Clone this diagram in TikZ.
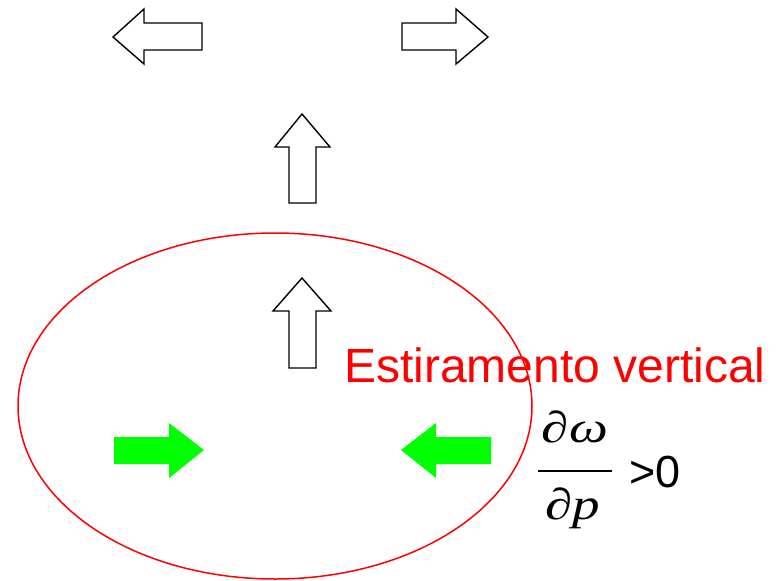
\documentclass[tikz,border=0pt]{standalone}
\usepackage{fontspec}
\setmainfont{Liberation Sans}
\newfontfamily\serifit{Liberation Serif}[ItalicFont={* Italic}]
\begin{document}
\begin{tikzpicture}[x=1pt,y=-1pt,
  outlinearrow/.style={draw=black,line width=1.4pt,fill=white,line join=miter},
  greenarrow/.style={fill=green!100,draw=none},
  ring/.style={draw=red,line width=1.5pt},
  redlabel/.style={text=red,font=\fontsize{48}{56}\selectfont,inner sep=0pt},
  blacklabel/.style={text=black,font=\fontsize{45}{54}\selectfont,inner sep=0pt},
  mathpart/.style={text=black,font=\fontsize{44}{52}\selectfont\serifit\itshape,inner sep=0pt}]
\useasboundingbox (0,0) rectangle (777,581);

% divergence aloft: two horizontal hollow arrows
\draw[outlinearrow] (113,37) -- (144,9) -- (144,23) -- (202,23) -- (202,50) -- (144,50) -- (144,64) -- cycle;
\draw[outlinearrow] (488,37) -- (456,9) -- (456,23) -- (402,23) -- (402,50) -- (456,50) -- (456,64) -- cycle;

% rising motion: two vertical hollow arrows
\draw[outlinearrow] (302,114) -- (330,147) -- (316,147) -- (316,203) -- (289,203) -- (289,147) -- (275,147) -- cycle;
\draw[outlinearrow] (302,278) -- (331,311) -- (316,311) -- (316,368) -- (289,368) -- (289,311) -- (273,311) -- cycle;

% stretched air column
\draw[ring] (275,406) ellipse [x radius=257, y radius=173];

% convergence near the surface: two solid green arrows
\fill[greenarrow] (204,450) -- (169,423) -- (169,437) -- (114,437) -- (114,464) -- (169,464) -- (169,478) -- cycle;
\fill[greenarrow] (401,450) -- (436,423) -- (436,437) -- (491,437) -- (491,464) -- (436,464) -- (436,478) -- cycle;

\node[redlabel,anchor=base west] (title) at (344,382) {Estiramento vertical};

% d(omega)/dp > 0
\node[mathpart,anchor=base] (num) at (575,442) {\scalebox{1.25}[1]{∂ω}};
\node[mathpart,anchor=base] (den) at (573,519) {\scalebox{1.25}[1]{∂p}};
\coordinate (barL) at (538,471);
\coordinate (barR) at (612,471);
\draw[line width=1.4pt] (barL) -- (barR);
\node[blacklabel,anchor=base west] (gt) at (629,487) {>0};
\end{tikzpicture}
\end{document}
